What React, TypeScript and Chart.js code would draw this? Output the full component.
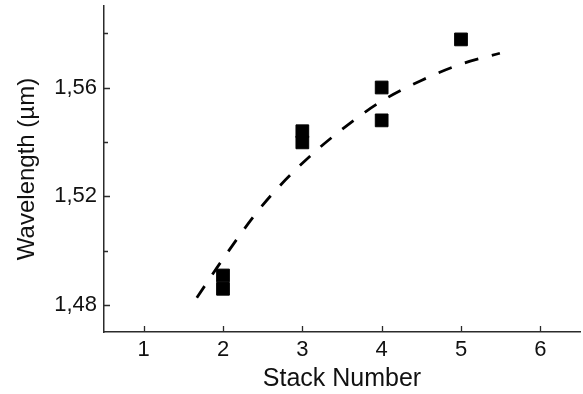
import React, { useEffect, useRef } from "react";
import { Chart, registerables } from "chart.js";

Chart.register(...registerables);

// Measured data (stack number vs wavelength in µm)
const stackX = [2, 2, 3, 3, 4, 4, 5];
const wavelengthY = [1.4908, 1.4859, 1.5439, 1.5398, 1.56, 1.5479, 1.5777];

// Dashed guide/fit curve
const fitX = [1.67, 2, 2.5, 3, 3.5, 4, 4.5, 5, 5.49];
const fitY = [1.4826, 1.4969, 1.5167, 1.5321, 1.5446, 1.555, 1.5626, 1.5686, 1.5726];

const xTicks = [1, 2, 3, 4, 5, 6];
const yTicks = [1.48, 1.5, 1.52, 1.54, 1.56, 1.58];
const yMajor = [1.48, 1.52, 1.56];

const FONT = "'Liberation Sans', Arial, sans-serif";
const AXIS_COLOR = "#2b2b2b";

const isMajorY = (v: number) => yMajor.some((m) => Math.abs(m - v) < 1e-6);

const innerTicks = {
  id: "innerTicks",
  afterDraw(chart: any) {
    const { ctx, chartArea, scales } = chart;
    ctx.save();
    ctx.strokeStyle = AXIS_COLOR;
    ctx.lineWidth = 1.3;
    ctx.beginPath();
    for (const v of xTicks) {
      const px = Math.round(scales.x.getPixelForValue(v)) + 0.5;
      ctx.moveTo(px, chartArea.bottom);
      ctx.lineTo(px, chartArea.bottom - 6);
    }
    for (const v of yTicks) {
      const py = Math.round(scales.y.getPixelForValue(v)) + 0.5;
      const len = isMajorY(v) ? 6 : 4;
      ctx.moveTo(chartArea.left, py);
      ctx.lineTo(chartArea.left + len, py);
    }
    ctx.stroke();
    ctx.restore();
  },
};

export default function App() {
  const ref = useRef<HTMLCanvasElement | null>(null);

  useEffect(() => {
    if (!ref.current) return;
    const chart = new Chart(ref.current, {
      type: "scatter",
      data: {
        datasets: [
          {
            type: "line",
            label: "fit",
            data: fitX.map((x, i) => ({ x, y: fitY[i] })),
            borderColor: "#000",
            borderWidth: 2.8,
            borderDash: [14, 14],
            pointRadius: 0,
            fill: false,
            cubicInterpolationMode: "monotone",
            order: 2,
          } as any,
          {
            label: "data",
            data: stackX.map((x, i) => ({ x, y: wavelengthY[i] })),
            pointStyle: "rect",
            pointRadius: 9,
            pointHoverRadius: 9,
            backgroundColor: "#000",
            borderColor: "#000",
            borderWidth: 1,
            order: 1,
          },
        ],
      },
      options: {
        responsive: false,
        animation: false,
        events: [],
        layout: { autoPadding: false, padding: { top: 6, right: 3, left: 0, bottom: 0 } },
        plugins: {
          legend: { display: false },
          tooltip: { enabled: false },
        },
        scales: {
          x: {
            type: "linear",
            min: 0.5,
            max: 6.5,
            afterBuildTicks: (scale: any) => {
              scale.ticks = xTicks.map((v) => ({ value: v }));
            },
            afterFit: (scale: any) => {
              scale.height = 62;
              scale.paddingLeft = 0;
              scale.paddingRight = 0;
            },
            grid: { display: false, drawTicks: false },
            border: { display: true, color: AXIS_COLOR, width: 1.5 },
            ticks: {
              color: "#111",
              font: { family: FONT, size: 22 },
              padding: 5,
              maxRotation: 0,
              callback: (v: any) => String(v),
            },
            title: {
              display: true,
              text: "Stack Number",
              color: "#111",
              font: { family: FONT, size: 25, lineHeight: 1.2 },
              padding: { top: 0, bottom: 0 },
            },
          },
          y: {
            type: "linear",
            min: 1.47,
            max: 1.59,
            afterBuildTicks: (scale: any) => {
              scale.ticks = yTicks.map((v) => ({ value: v }));
            },
            afterFit: (scale: any) => {
              scale.width = 104;
              scale.paddingTop = 0;
              scale.paddingBottom = 0;
            },
            grid: { display: false, drawTicks: false },
            border: { display: true, color: AXIS_COLOR, width: 1.5 },
            ticks: {
              color: "#111",
              font: { family: FONT, size: 22 },
              padding: 7,
              callback: (v: any) =>
                isMajorY(Number(v)) ? Number(v).toFixed(2).replace(".", ",") : "",
            },
            title: {
              display: true,
              text: "Wavelength (\u00b5m)",
              color: "#111",
              font: { family: FONT, size: 24, lineHeight: 1.2 },
              padding: { top: 13, bottom: 0 },
            },
          },
        },
      },
      plugins: [innerTicks],
    });
    return () => chart.destroy();
  }, []);

  return (
    <div style={{ position: "absolute", left: 0, top: 0, width: 583, height: 394, background: "#fff" }}>
      <canvas ref={ref} width={583} height={394} style={{ display: "block" }} />
    </div>
  );
}
